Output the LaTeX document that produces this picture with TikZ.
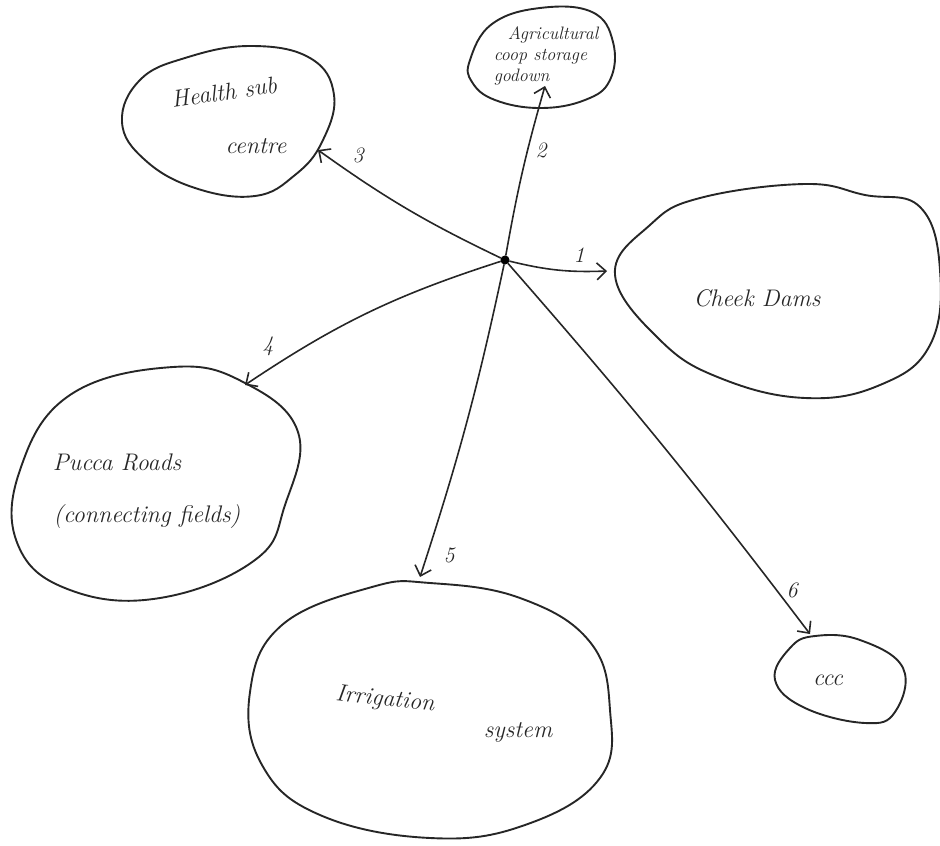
\documentclass[tikz,border=0pt]{standalone}
\usetikzlibrary{arrows.meta}
\begin{document}
\begin{tikzpicture}[x=1pt,y=-1pt,
  blob/.style={draw=black!85,line width=1.9pt,smooth cycle,tension=0.7},
  lbl/.style={font=\fontsize{24}{26}\selectfont\itshape,text=black!85,inner sep=1pt},
  num/.style={font=\fontsize{22}{24}\selectfont\itshape,text=black!85},
  conn/.style={draw=black!85,line width=1.6pt,-{Straight Barb[length=9pt,width=17pt,line width=1.6pt]}}]
\useasboundingbox (0,0) rectangle (940,846);
% blobs
\draw[blob] plot coordinates {(470,60) (492,24) (540,8) (592,12) (613,42) (610,80) (585,100) (540,108) (495,100) (472,82)};
\draw[blob] plot coordinates {(122,122) (140,80) (185,58) (250,46) (310,58) (334,95) (322,142) (295,175) (255,196) (195,188) (145,160)};
\draw[blob] plot coordinates {(615,275) (650,225) (700,198) (805,184) (865,195) (920,207) (940,270) (930,345) (880,385) (805,398) (720,378) (660,340)};
\draw[blob] plot coordinates {(70,395) (173,367) (245,383) (298,432) (285,505) (255,560) (160,598) (70,590) (18,545) (20,470)};
\draw[blob] plot coordinates {(250,692) (282,625) (372,587) (430,583) (520,598) (590,642) (610,710) (600,778) (525,825) (430,838) (320,815) (262,765)};
\draw[blob] plot coordinates {(775,680) (790,648) (815,636) (860,640) (903,668) (895,712) (865,723) (805,708)};
% centre
\node[circle,fill=black,draw=black,line width=1pt,inner sep=0pt,minimum size=8pt] (c) at (505,260) {};
% texts
\node[lbl,align=left,font=\fontsize{18}{21}\selectfont\itshape] (agri) at (546,56) {\hspace*{14pt}Agricultural\\coop storage\\ godown};
\node[lbl,rotate=8] (hs1) at (224,92) {Health sub};
\node[lbl] (hs2) at (256,146) {centre};
\node[lbl] (cd) at (757,298) {Cheek Dams};
\node[lbl] (pr1) at (117,462) {Pucca Roads};
\node[lbl] (pr2) at (147,517) {(connecting fields)};
\node[lbl,rotate=-6] (ir1) at (385,700) {Irrigation};
\node[lbl] (ir2) at (518,732) {system};
\node[lbl] (ccc) at (828,680) {ccc};
% connector ends
\coordinate (e1) at (607,271);
\coordinate (e2) at (545,86);
\coordinate (e3) at (318,150);
\coordinate (e4) at (245,385);
\coordinate (e5) at (420,577);
\coordinate (e6) at (810,634);
\draw[conn] (c) to[bend right=8] (e1);
\draw[conn] (c) to[bend left=3] (e2);
\draw[conn] (c) to[bend left=5] (e3);
\draw[conn] (c) to[bend right=8] (e4);
\draw[conn] (c) to[bend left=3] (e5);
\draw[conn] (c) to[bend left=2] (e6);
% numbers
\node[num] (n1) at (579,255) {1};
\node[num] (n2) at (541,150) {2};
\node[num] (n3) at (358,155) {3};
\node[num] (n4) at (268,346) {4};
\node[num] (n5) at (449,555) {5};
\node[num] (n6) at (792,590) {6};
\end{tikzpicture}
\end{document}
